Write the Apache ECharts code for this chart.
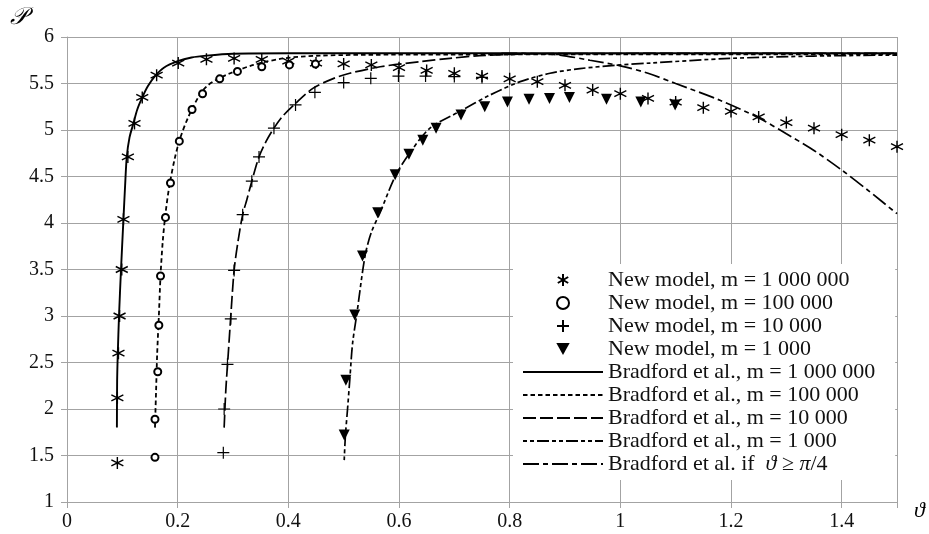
<!DOCTYPE html>
<html>
<head>
<meta charset="utf-8">
<script src="https://cdn.jsdelivr.net/npm/echarts@6/dist/echarts.min.js"></script>
<style>
  html, body { margin: 0; padding: 0; background: #fff; }
  #main { width: 929px; height: 534px; }
</style>
</head>
<body>
<div id="main"></div>
<script>
// New model markers [theta, P]
var newM1e6 = [[0.091,1.42],[0.091,2.12],[0.093,2.60],[0.095,3.00],[0.099,3.50],[0.102,4.04],[0.110,4.71],[0.122,5.07],[0.136,5.35],[0.162,5.59],[0.201,5.72],[0.252,5.76],[0.302,5.77],[0.352,5.76],[0.40,5.74],[0.45,5.72],[0.50,5.71],[0.55,5.70],[0.60,5.67],[0.65,5.64],[0.70,5.61],[0.75,5.58],[0.80,5.55],[0.85,5.52],[0.90,5.48],[0.95,5.43],[1.00,5.39],[1.05,5.34],[1.10,5.30],[1.15,5.24],[1.20,5.20],[1.25,5.14],[1.30,5.08],[1.35,5.02],[1.40,4.95],[1.45,4.89],[1.50,4.82]];
var newM1e5 = [[0.159,1.48],[0.159,1.89],[0.164,2.40],[0.166,2.90],[0.169,3.43],[0.178,4.06],[0.187,4.43],[0.203,4.88],[0.226,5.22],[0.245,5.39],[0.276,5.55],[0.308,5.63],[0.352,5.68],[0.402,5.70],[0.449,5.71]];
var newM1e4 = [[0.2825,1.53],[0.284,2.00],[0.290,2.48],[0.296,2.97],[0.302,3.49],[0.3175,4.09],[0.334,4.45],[0.347,4.71],[0.374,5.02],[0.413,5.27],[0.448,5.405],[0.50,5.51],[0.549,5.556],[0.599,5.58],[0.648,5.58],[0.70,5.575],[0.75,5.565]];
var newM1e3 = [[0.501,1.72],[0.504,2.31],[0.520,3.01],[0.534,3.645],[0.5615,4.11],[0.593,4.52],[0.618,4.74],[0.643,4.89],[0.667,5.02],[0.712,5.16],[0.755,5.25],[0.796,5.30],[0.835,5.33],[0.872,5.34],[0.908,5.35],[0.975,5.33],[1.037,5.30],[1.099,5.27]];

// Bradford et al. curves [theta, P]
var brad1e6 = [[0.0902,1.8],[0.0906,2.3],[0.0918,2.6],[0.094,3.0],[0.0976,3.5],[0.102,4.04],[0.105,4.4],[0.108,4.71],[0.113,4.92],[0.12,5.07],[0.127,5.22],[0.136,5.35],[0.146,5.47],[0.159,5.58],[0.175,5.67],[0.2,5.74],[0.225,5.78],[0.252,5.80],[0.3,5.82],[0.4,5.825],[1.5,5.825]];
var brad1e5 = [[0.159,1.8],[0.161,2.2],[0.163,2.6],[0.166,3.0],[0.169,3.43],[0.173,3.8],[0.178,4.1],[0.185,4.4],[0.195,4.7],[0.205,4.92],[0.22,5.15],[0.24,5.38],[0.2525,5.47],[0.27,5.54],[0.295,5.61],[0.337,5.70],[0.391,5.77],[0.457,5.80],[0.6,5.81],[1.5,5.815]];
var brad1e4 = [[0.284,1.8],[0.287,2.2],[0.2915,2.6],[0.296,3.0],[0.302,3.49],[0.309,3.8],[0.3175,4.09],[0.325,4.25],[0.334,4.45],[0.347,4.71],[0.36,4.88],[0.374,5.02],[0.39,5.15],[0.412,5.28],[0.445,5.45],[0.48,5.55],[0.511,5.61],[0.566,5.68],[0.638,5.735],[0.692,5.77],[0.746,5.80],[0.855,5.82],[1.5,5.825]];
var brad1e3 = [[0.501,1.45],[0.503,1.7],[0.507,2.0],[0.511,2.31],[0.516,2.7],[0.5235,3.01],[0.5386,3.645],[0.55,3.9],[0.5657,4.11],[0.593,4.5],[0.618,4.74],[0.656,5.02],[0.71,5.20],[0.7645,5.376],[0.819,5.52],[0.873,5.61],[0.927,5.66],[1.0,5.70],[1.054,5.72],[1.198,5.77],[1.35,5.795],[1.5,5.806]];
var bradPi4 = [[0.785,5.825],[0.855,5.82],[0.891,5.806],[0.945,5.75],[1.0,5.69],[1.05,5.61],[1.10,5.50],[1.18,5.32],[1.25,5.13],[1.30,4.96],[1.35,4.78],[1.40,4.57],[1.45,4.34],[1.5,4.10]];

var seriesNames = [
  'New model, m = 1 000 000', 'New model, m = 100 000', 'New model, m = 10 000', 'New model, m = 1 000',
  'Bradford et al., m = 1 000 000', 'Bradford et al., m = 100 000', 'Bradford et al., m = 10 000',
  'Bradford et al., m = 1 000', 'Bradford et al. if  ϑ ≥ π/4'
];

var serif = '"Liberation Serif", "DejaVu Serif", serif';
var grey = '#a3a3a3';

var starPath = 'path://M5,0L5,10M0.67,2.5L9.33,7.5M0.67,7.5L9.33,2.5';
var plusPath = 'path://M5,0L5,10M0,5L10,5';
var triPath = 'path://M0,0L10,0L5,9Z';

function marker(name, data, symbol, size, style) {
  style.opacity = 1;
  return { name: name, type: 'scatter', data: data, symbol: symbol, symbolSize: size, itemStyle: style, z: 4 };
}
function curve(name, data, type, width) {
  return {
    name: name, type: 'line', data: data, symbol: 'none', smooth: 0.3,
    itemStyle: { color: 'rgba(0,0,0,0)' },
    lineStyle: { color: '#000', width: width, type: type }, z: 3
  };
}

var chart = echarts.init(document.getElementById('main'));
chart.setOption({
  animation: false,
  grid: { left: 67, right: 32, top: 37, bottom: 32 },
  xAxis: {
    type: 'value', min: 0, max: 1.5, interval: 0.2,
    axisLine: { show: true, lineStyle: { color: grey } },
    axisTick: { show: true, length: 6, lineStyle: { color: grey } },
    splitLine: { show: true, lineStyle: { color: grey } },
    axisLabel: {
      margin: 10, color: '#111', fontFamily: serif, fontSize: 20,
      formatter: function (v) { return v > 1.45 ? '' : String(+v.toFixed(1)); }
    }
  },
  yAxis: {
    type: 'value', min: 1, max: 6, interval: 0.5,
    axisLine: { show: true, lineStyle: { color: grey } },
    axisTick: { show: true, length: 6, lineStyle: { color: grey } },
    splitLine: { show: true, lineStyle: { color: grey } },
    axisLabel: { margin: 13, color: '#111', fontFamily: serif, fontSize: 20 }
  },
  legend: {
    orient: 'vertical', left: 513, top: 264,
    backgroundColor: '#fff', padding: [5, 20, 5, 9],
    itemWidth: 80, itemHeight: 12, itemGap: 1, itemTextGap: 5,
    selectedMode: false,
    data: seriesNames,
    textStyle: {
      fontFamily: serif, fontSize: 22, color: '#111',
      rich: { i: { fontFamily: serif, fontSize: 22, fontStyle: 'italic', color: '#111' } }
    },
    formatter: function (n) {
      if (n.indexOf('ϑ') >= 0) return 'Bradford et al. if  {i|ϑ} ≥ {i|π}/4';
      return n;
    }
  },
  graphic: [
    { type: 'text', left: 10, top: 6, style: { text: '𝒫', font: 'italic 24px "DejaVu Serif", "DejaVu Sans", serif', fill: '#000' } },
    { type: 'text', left: 914, top: 500, style: { text: 'ϑ', font: 'italic 22px "Liberation Serif", "DejaVu Serif", serif', fill: '#000' } }
  ],
  series: [
    marker(seriesNames[0], newM1e6, starPath, 12, { color: 'transparent', borderColor: '#000', borderWidth: 1.4 }),
    marker(seriesNames[1], newM1e5, 'emptyCircle', 7, { color: '#000', borderColor: '#000', borderWidth: 2 }),
    marker(seriesNames[2], newM1e4, plusPath, 12, { color: 'transparent', borderColor: '#000', borderWidth: 1.2 }),
    marker(seriesNames[3], newM1e3, triPath, 11, { color: '#000', borderColor: '#000', borderWidth: 0 }),
    curve(seriesNames[4], brad1e6, 'solid', 1.9),
    curve(seriesNames[5], brad1e5, [4.5, 3], 1.8),
    curve(seriesNames[6], brad1e4, [13, 4], 1.7),
    curve(seriesNames[7], brad1e3, [4, 3, 4, 3, 12, 3], 1.7),
    curve(seriesNames[8], bradPi4, [16, 4, 5, 4], 1.7)
  ]
});
</script>
</body>
</html>
